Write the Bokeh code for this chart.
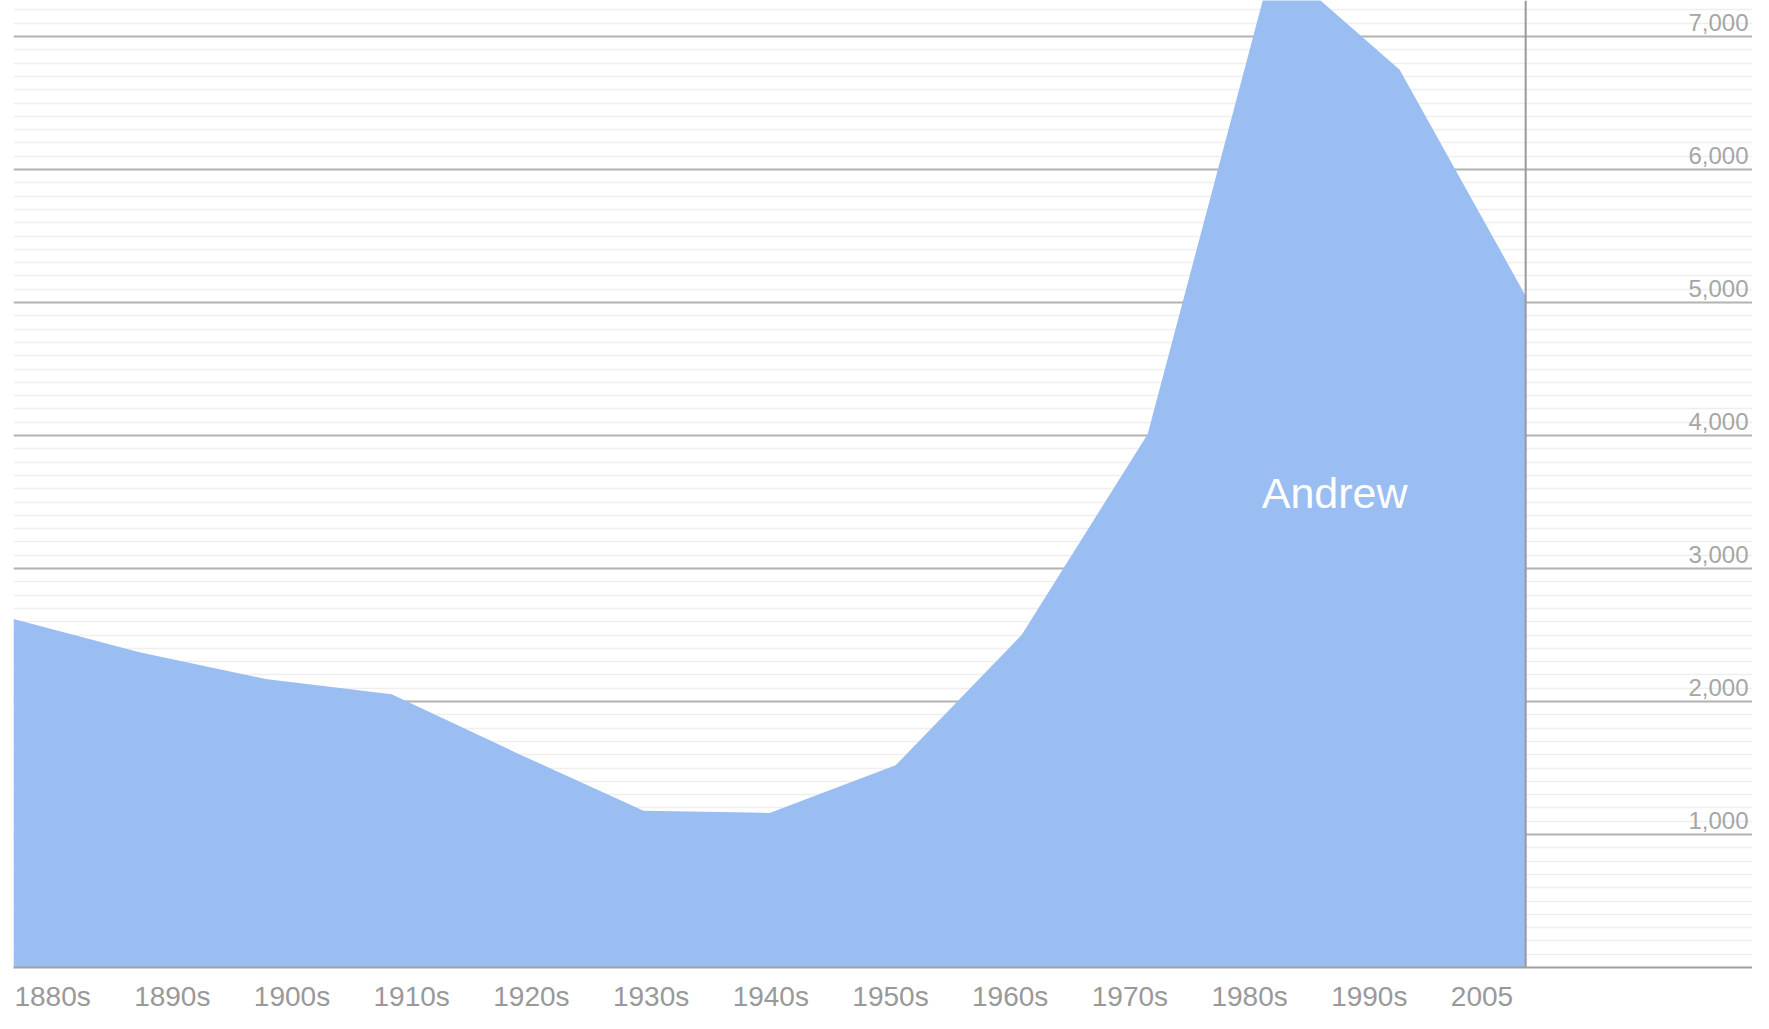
from bokeh.plotting import figure
from bokeh.models import (Range1d, LinearAxis, FixedTicker, SingleIntervalTicker,
                          Span, Label, ColumnDataSource)
from bokeh.core.properties import value
from bokeh.embed import file_html
from bokeh.resources import INLINE

# ---- data ----
decades = ["1880s", "1890s", "1900s", "1910s", "1920s", "1930s", "1940s",
           "1950s", "1960s", "1970s", "1980s", "1990s", "2000s"]
andrew = [2620, 2370, 2170, 2055, 1610, 1178, 1162, 1520, 2500, 4010, 7580, 6750, 5050]
x_labels = ["1880s", "1890s", "1900s", "1910s", "1920s", "1930s", "1940s",
            "1950s", "1960s", "1970s", "1980s", "1990s", "2005"]
y_ticks = [1000, 2000, 3000, 4000, 5000, 6000, 7000]
y_tick_labels = ["1,000", "2,000", "3,000", "4,000", "5,000", "6,000", "7,000"]
series_name = "Andrew"

idx = list(range(len(decades)))

FONT = "Liberation Sans"
AREA = "#9abdf2"
X_END = 13.80
Y_END = 7271
XLAB_PX = 28          # x label font size
LAB_UNIT_PX = 119.67  # pixel spacing of the x labels

p = figure(width=1752, height=1025, output_backend="svg", toolbar_location=None,
           x_range=Range1d(0, X_END), y_range=Range1d(0, Y_END),
           x_axis_location=None, y_axis_location=None,
           min_border_left=13, min_border_right=0, min_border_top=0,
           min_border_bottom=58)
p.outline_line_color = None
p.background_fill_color = "white"

# grid
p.xgrid.visible = False
p.ygrid.ticker = SingleIntervalTicker(interval=1000, num_minor_ticks=10)
p.ygrid.grid_line_color = "#b4b4b4"
p.ygrid.grid_line_width = 2
p.ygrid.minor_grid_line_color = "#eeeeee"
p.ygrid.minor_grid_line_width = 1.5

# area
src = ColumnDataSource(dict(x=idx, y=andrew))
p.varea(x="x", y1=0, y2="y", source=src, fill_color=AREA)

# vertical "now" line at last data point
p.add_layout(Span(location=idx[-1], dimension="height", line_color="#999999",
                  line_width=2))

# y tick labels inside the plot on the right
ysrc = ColumnDataSource(dict(x=[X_END] * len(y_ticks), y=y_ticks, t=y_tick_labels))
p.text(x="x", y="y", text="t", source=ysrc, text_align="right",
       text_baseline="alphabetic", x_offset=-4, y_offset=-14,
       text_font=value(FONT), text_font_size="24px", text_color="#a6a6a6")

# x axis: labels left-aligned at evenly spaced slots (centre = slot + half width)
def half_width_units(t):
    em = sum(0.5 if c == "s" else 0.556 for c in t)
    return em * XLAB_PX / 2 / LAB_UNIT_PX

label_ticks = [i + half_width_units(t) for i, t in enumerate(x_labels)]
p.extra_x_ranges = {"labels": Range1d(-0.008, 14.52)}
xa = LinearAxis(x_range_name="labels", ticker=FixedTicker(ticks=label_ticks),
                major_label_overrides={tk: t for tk, t in zip(label_ticks, x_labels)})
xa.major_label_text_font = FONT
xa.major_label_text_font_size = f"{XLAB_PX}px"
xa.major_label_text_color = "#999999"
xa.major_label_standoff = 7
xa.major_tick_line_color = None
xa.minor_tick_line_color = None
xa.axis_line_color = "#a0a0a0"
xa.axis_line_width = 2
p.add_layout(xa, "below")

# series name
p.add_layout(Label(x=10.484, y=3566, text=series_name, text_align="center",
                   text_baseline="alphabetic", text_font=FONT,
                   text_font_size="43px", text_color="white"))

open("out.html", "w").write(file_html(p, INLINE))
